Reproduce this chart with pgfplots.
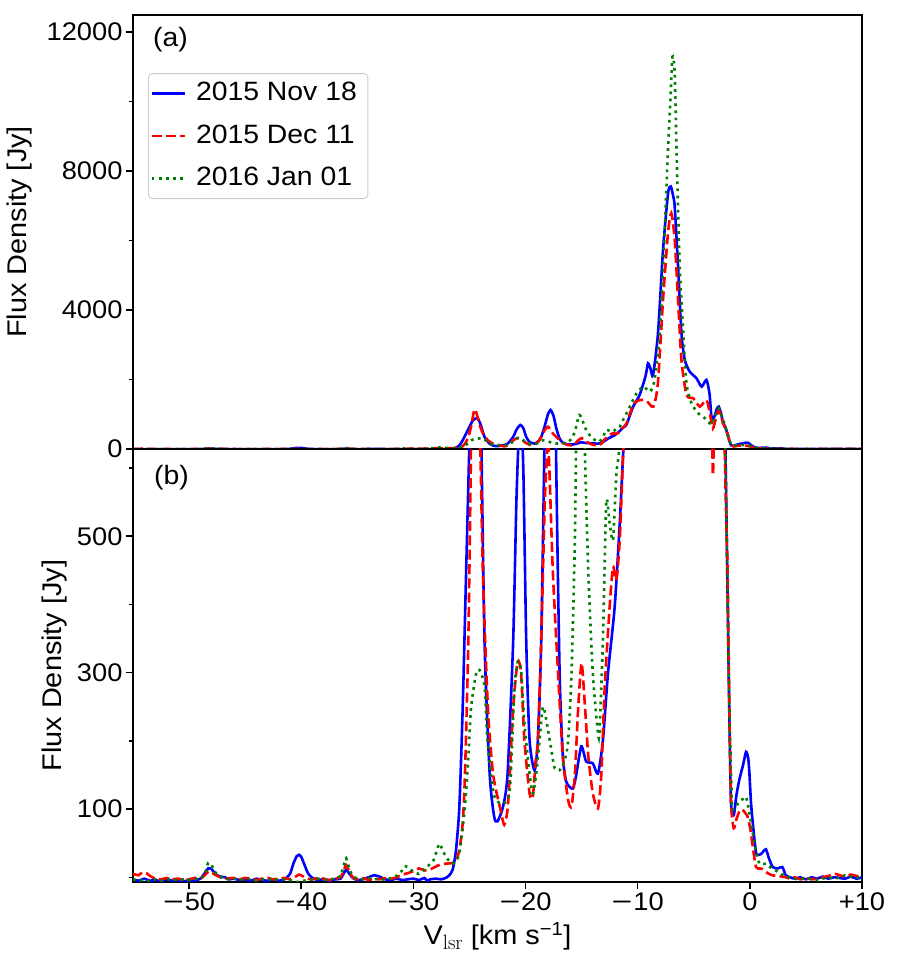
\documentclass[border=0pt]{standalone}
\usepackage[no-math]{fontspec}
\setmainfont{Liberation Sans}[FakeStretch=1.07]
\usepackage{graphicx}
\usepackage{pgfplots}
\pgfplotsset{compat=1.18}
\usepackage{pgfplotstable}

\definecolor{mblue}{HTML}{0000FF}
\definecolor{mred}{HTML}{FF0000}
\definecolor{mgreen}{HTML}{008000}
\newcommand\tickfont{\fontsize{25.5pt}{29pt}\selectfont}
\newcommand\labfont{\fontsize{27pt}{32pt}\selectfont}
\newcommand\legfont{\fontsize{26.5pt}{31pt}\selectfont}
\newcommand\wm{\scalebox{1.3}[1]{−}\kern1pt}

\pgfplotstableread[row sep=\\]{
v f\\
-55.0 -3\\ -54.5 -5\\ -54.0 -2\\ -53.5 -5\\ -53.0 -4\\ -52.5 -6\\ -52.0 -3\\ -51.5 -5\\ -51.0 -4\\ -50.5 -6\\
-50.0 -4\\ -49.5 -5\\ -49.0 -2\\ -48.6 6\\ -48.3 13\\ -48.0 12\\ -47.6 4\\ -47.2 1\\ -46.8 0\\ -46.4 -3\\
-46.0 -2\\ -45.5 -4\\ -45.0 -3\\ -44.5 -5\\ -44.0 -2\\ -43.5 -4\\ -43.0 -5\\ -42.5 -3\\ -42.0 -5\\ -41.5 -3\\
-41.0 5\\ -40.7 20\\ -40.4 31\\ -40.2 33\\ -40.0 30\\ -39.7 18\\ -39.4 6\\ -39.0 -1\\ -38.5 -4\\ -38.0 -3\\
-37.5 -5\\ -37.0 -3\\ -36.5 -2\\ -36.2 6\\ -36.0 11\\ -35.7 5\\ -35.4 -1\\ -35.0 -4\\ -34.5 -3\\ -34.0 0\\
-33.5 3\\ -33.0 1\\ -32.5 -3\\ -32.0 -4\\ -31.5 -2\\ -31.0 -4\\ -30.5 -3\\ -30.0 -2\\ -29.5 -4\\ -29.0 -1\\
-28.8 -5\\ -28.5 -3\\ -28.0 -2\\ -27.5 -3\\ -27.0 0\\ -26.8 3\\ -26.5 11\\ -26.2 40\\ -25.9 104\\ -25.6 250\\
-25.3 446\\ -25.0 640\\ -24.7 820\\ -24.3 893\\ -24.0 700\\ -23.66 348\\ -23.2 152\\ -22.8 89\\ -22.5 82\\ -22.0 104\\
-21.6 152\\ -21.1 348\\ -20.8 560\\ -20.47 691\\ -20.2 600\\ -19.94 348\\ -19.64 201\\ -19.2 157\\ -18.9 201\\ -18.6 348\\
-18.3 650\\ -18.0 1000\\ -17.77 1123\\ -17.5 950\\ -17.26 600\\ -16.96 299\\ -16.67 177\\ -16.37 140\\ -15.8 130\\ -15.5 148\\
-15.03 192\\ -14.6 170\\ -14.0 167\\ -13.54 152\\ -13.1 201\\ -12.65 299\\ -12.05 397\\ -11.6 519\\ -11.3 620\\ -11.0 700\\
-10.4 1219\\ -9.82 1562\\ -9.3 2100\\ -9.08 2467\\ -8.85 2300\\ -8.63 2131\\ -8.19 3331\\ -7.74 5731\\ -7.29 7363\\ -7.05 7555\\
-6.85 7300\\ -6.7 6979\\ -6.4 5251\\ -6.1 3331\\ -5.8 2563\\ -5.36 2227\\ -4.76 2035\\ -4.3 1795\\ -3.87 1987\\ -3.6 1600\\
-3.42 931\\ -3.2 900\\ -2.95 1150\\ -2.77 1219\\ -2.55 1000\\ -2.38 739\\ -2.2 650\\ -2.0 430\\ -1.85 260\\ -1.68 110\\
-1.44 91\\ -1.2 120\\ -0.94 143\\ -0.6 165\\ -0.34 184\\ -0.15 175\\ -0.04 153\\ 0.1 110\\ 0.26 80\\ 0.55 36\\
0.8 33\\ 1.0 34\\ 1.2 38\\ 1.44 41\\ 1.7 28\\ 2.04 15\\ 2.5 13\\ 2.9 15\\ 3.2 3\\ 3.6 0\\
4.0 -2\\ 4.5 0\\ 5.0 -3\\ 5.5 0\\ 6.0 -2\\ 6.5 1\\ 7.0 -2\\ 7.5 0\\ 8.0 -1\\ 8.5 -2\\ 9.0 1\\ 9.5 -2\\ 10.0 0\\
}\tblue

\pgfplotstableread[row sep=\\]{
v f\\
-55.0 5\\ -54.5 3\\ -54.2 7\\ -53.8 6\\ -53.4 1\\ -53.0 -2\\ -52.5 -3\\ -52.0 -1\\ -51.5 -3\\ -51.0 -2\\
-50.5 -4\\ -50.0 -3\\ -49.5 -1\\ -49.0 -2\\ -48.6 3\\ -48.3 8\\ -48.0 7\\ -47.6 3\\ -47.2 0\\ -46.8 -2\\
-46.0 -1\\ -45.5 -3\\ -45.0 -1\\ -44.5 -2\\ -44.0 -4\\ -43.5 -2\\ -43.0 -1\\ -42.5 -3\\ -42.0 -2\\ -41.5 -1\\
-41.0 -3\\ -40.5 1\\ -40.2 4\\ -39.9 2\\ -39.5 -2\\ -39.0 -3\\ -38.5 -1\\ -38.0 -2\\ -37.5 -4\\ -37.0 -2\\
-36.5 0\\ -36.2 10\\ -36.0 18\\ -35.7 8\\ -35.4 0\\ -35.0 -3\\ -34.5 -1\\ -34.0 -4\\ -33.5 -2\\ -33.0 -3\\
-32.5 -1\\ -32.0 -2\\ -31.5 0\\ -31.0 4\\ -30.5 6\\ -30.0 9\\ -29.5 13\\ -29.0 10\\ -28.6 11\\ -28.2 14\\
-27.7 18\\ -27.1 20\\ -26.5 21\\ -26.2 25\\ -25.9 40\\ -25.6 80\\ -25.4 152\\ -25.1 348\\ -24.85 650\\ -24.55 1142\\
-24.3 950\\ -24.1 700\\ -23.8 446\\ -23.36 250\\ -22.9 152\\ -22.3 104\\ -21.9 77\\ -21.6 100\\ -21.4 152\\ -21.1 250\\
-20.7 316\\ -20.4 299\\ -20.1 201\\ -19.64 123\\ -19.35 118\\ -19.1 170\\ -18.9 201\\ -18.6 348\\ -18.3 543\\ -18.15 600\\
-18.0 640\\ -17.86 592\\ -17.56 446\\ -17.1 299\\ -16.67 177\\ -16.2 113\\ -15.9 104\\ -15.6 152\\ -15.3 250\\ -15.0 314\\
-14.7 250\\ -14.4 177\\ -14.0 123\\ -13.54 101\\ -13.24 152\\ -12.95 275\\ -12.5 397\\ -12.2 455\\ -11.9 436\\ -11.6 495\\
-11.3 620\\ -11.0 739\\ -10.4 1267\\ -9.8 1411\\ -9.2 1380\\ -8.6 1219\\ -8.2 1891\\ -7.74 4291\\ -7.3 6211\\ -7.0 6787\\
-6.7 6019\\ -6.4 4291\\ -6.1 2563\\ -5.65 1555\\ -5.05 1459\\ -4.46 1219\\ -3.87 1411\\ -3.55 1000\\ -3.3 590\\ -3.05 850\\
-2.77 1123\\ -2.38 739\\ -2.1 520\\ -1.98 446\\ -1.83 250\\ -1.68 110\\ -1.44 72\\ -1.2 85\\ -0.9 98\\ -0.64 99\\
-0.4 94\\ -0.2 89\\ 0.05 70\\ 0.26 45\\ 0.55 15\\ 0.9 13\\ 1.15 12\\ 1.6 6\\ 2.0 3\\ 2.5 2\\
3.2 0\\ 3.6 -2\\ 4.0 0\\ 4.5 -3\\ 5.0 -1\\ 5.5 -3\\ 6.0 -2\\ 6.5 0\\ 7.0 2\\ 7.6 5\\ 8.0 3\\ 8.5 1\\ 9.0 4\\ 9.5 2\\ 10.0 3\\
}\tred

\pgfplotstableread[row sep=\\]{
v f\\
-55.0 -3\\ -54.5 -5\\ -54.0 -4\\ -53.5 -6\\ -53.0 -3\\ -52.5 -5\\ -52.0 -4\\ -51.5 -2\\ -51.0 -5\\ -50.5 -3\\
-50.0 -4\\ -49.5 -2\\ -49.0 -3\\ -48.6 5\\ -48.3 21\\ -48.0 18\\ -47.7 8\\ -47.3 2\\ -47.0 -1\\ -46.5 -3\\
-46.0 -2\\ -45.5 -4\\ -45.0 -2\\ -44.5 -3\\ -44.0 -5\\ -43.5 -3\\ -43.0 -4\\ -42.5 -2\\ -42.0 -4\\ -41.5 -3\\
-41.0 -4\\ -40.5 -7\\ -40.0 -6\\ -39.5 -4\\ -39.0 -3\\ -38.5 -2\\ -38.0 -4\\ -37.5 -3\\ -37.0 -2\\ -36.5 2\\
-36.2 18\\ -36.0 28\\ -35.7 12\\ -35.4 2\\ -35.0 -2\\ -34.5 -3\\ -34.0 -1\\ -33.5 -3\\ -33.0 -2\\ -32.5 -4\\
-32.0 -1\\ -31.5 2\\ -31.0 10\\ -30.8 16\\ -30.5 15\\ -30.0 8\\ -29.5 5\\ -29.0 12\\ -28.6 18\\ -28.2 25\\
-27.7 49\\ -27.4 40\\ -27.1 30\\ -26.5 20\\ -25.9 35\\ -25.4 104\\ -25.1 177\\ -24.85 250\\ -24.4 299\\ -24.1 304\\
-23.66 280\\ -23.4 201\\ -22.9 128\\ -22.6 113\\ -22.0 108\\ -21.4 128\\ -21.0 275\\ -20.7 316\\ -20.4 304\\ -20.1 226\\
-19.64 152\\ -19.35 123\\ -19.05 152\\ -18.75 201\\ -18.45 250\\ -18.15 231\\ -17.7 187\\ -17.4 160\\ -16.96 157\\ -16.5 172\\
-16.2 201\\ -15.9 299\\ -15.6 495\\ -15.45 700\\ -15.2 979\\ -14.95 850\\ -14.7 620\\ -14.4 446\\ -14.0 299\\ -13.54 211\\
-13.4 215\\ -13.1 348\\ -12.8 550\\ -12.5 519\\ -12.2 495\\ -11.9 592\\ -11.6 643\\ -11.2 900\\ -10.7 1219\\ -10.1 1603\\
-9.5 1795\\ -8.9 1651\\ -8.5 1987\\ -8.04 3331\\ -7.6 6211\\ -7.3 8611\\ -7.08 10051\\ -6.9 11290\\ -6.7 10806\\ -6.5 8131\\
-6.25 5251\\ -5.95 3427\\ -5.65 1891\\ -5.2 1315\\ -4.6 1027\\ -4.0 883\\ -3.4 700\\ -3.1 950\\ -2.8 1171\\ -2.38 835\\
-2.15 600\\ -1.98 400\\ -1.8 230\\ -1.6 110\\ -1.5 99\\ -1.2 105\\ -0.94 111\\ -0.6 115\\ -0.34 118\\ -0.1 100\\
0.26 65\\ 0.55 38\\ 0.85 20\\ 1.1 19\\ 1.44 20\\ 1.7 16\\ 2.0 13\\ 2.5 8\\ 3.0 3\\ 3.5 0\\
4.0 -2\\ 4.5 -3\\ 5.0 -1\\ 5.5 -3\\ 6.0 -4\\ 6.5 -2\\ 7.0 0\\ 7.5 -2\\ 8.0 0\\ 8.5 3\\ 9.0 1\\ 9.5 -1\\ 10.0 2\\
}\tgreen

\pgfplotsset{
  common/.style={
    scale only axis, width=729pt,
    xmin=-55, xmax=10,
    scaled y ticks=false, scaled x ticks=false,
    axis line style={line width=1.8pt},
    every major tick/.append style={line width=1.6pt, black},
    every minor tick/.append style={line width=1.3pt, black},
    major tick length=7pt, minor tick length=4pt,
    tick align=outside,
    xtick pos=bottom, ytick pos=left,
    every tick label/.append style={font=\tickfont},
    label style={font=\labfont},
    clip=true,
  },
  sB/.style={mblue, line width=2.6pt, smooth, tension=0.4},
  sR/.style={mred, line width=2.6pt, smooth, tension=0.4, dash pattern=on 10pt off 4.3pt},
  sG/.style={mgreen, line width=2.6pt, smooth, tension=0.4, dash pattern=on 2.7pt off 4.4pt},
}

\begin{document}
\begin{tikzpicture}
\useasboundingbox (0,0) rectangle (898pt,964pt);
% top panel
\begin{axis}[common,
  at={(133pt,515pt)}, anchor=south west, height=434pt,
  ymin=0, ymax=12490,
  ytick={0,4000,8000,12000}, yticklabels={0,4000,8000,12000},
  minor ytick={2000,6000,10000},
  xtick=\empty,
  ylabel={Flux Density [Jy]},
  ylabel style={at={(axis description cs:-0.155,0.5)}, anchor=center},
  legend cell align=left,
  legend style={at={(axis description cs:0.0206,0.866)}, anchor=north west,
    draw=black!20, line width=0.9pt, rounded corners=4pt, fill=white,
    font=\legfont, inner xsep=2pt, inner ysep=5pt, row sep=12.5pt,
    nodes={inner sep=2pt, text height=20pt, text depth=6pt}},
  legend image code/.code={\draw[#1,smooth=false] (0pt,0pt) -- (33pt,0pt); \path (41pt,0pt);},
]
\addplot[sB] table[x=v,y=f] {\tblue};
\addplot[sR] table[x=v,y=f] {\tred};
\addplot[sG] table[x=v,y=f] {\tgreen};
\legend{2015 Nov 18\hspace*{7pt}, 2015 Dec 11\hspace*{7pt}, 2016 Jan 01\hspace*{7pt}}
\node[anchor=base west, inner sep=0, font=\legfont] at (axis description cs:0.0274,0.927) {(a)};
\end{axis}
% bottom panel
\begin{axis}[common,
  at={(133pt,82pt)}, anchor=south west, height=433pt,
  ymin=-6.9, ymax=628,
  ytick={100,300,500}, yticklabels={100,300,500},
  minor ytick={0,200,400,600},
  xtick={-50,-40,-30,-20,-10,0,10},
  xticklabels={\wm50,\wm40,\wm30,\wm20,\wm10,0,+10},
  ylabel={Flux Density [Jy]},
  ylabel style={at={(axis description cs:-0.108,0.5)}, anchor=center},
  xlabel={V\raisebox{-5pt}{\fontsize{21pt}{21pt}\selectfont$\mathrm{lsr}$} [km s\textsuperscript{−1}]},
  xlabel style={at={(axis description cs:0.5,-0.1455)}, anchor=base},
]
\addplot[sB] table[x=v,y=f] {\tblue};
\addplot[sR] table[x=v,y=f] {\tred};
\addplot[sG] table[x=v,y=f] {\tgreen};
\node[anchor=base west, inner sep=0, font=\legfont] at (axis description cs:0.0288,0.919) {(b)};
\end{axis}
\end{tikzpicture}
\end{document}
